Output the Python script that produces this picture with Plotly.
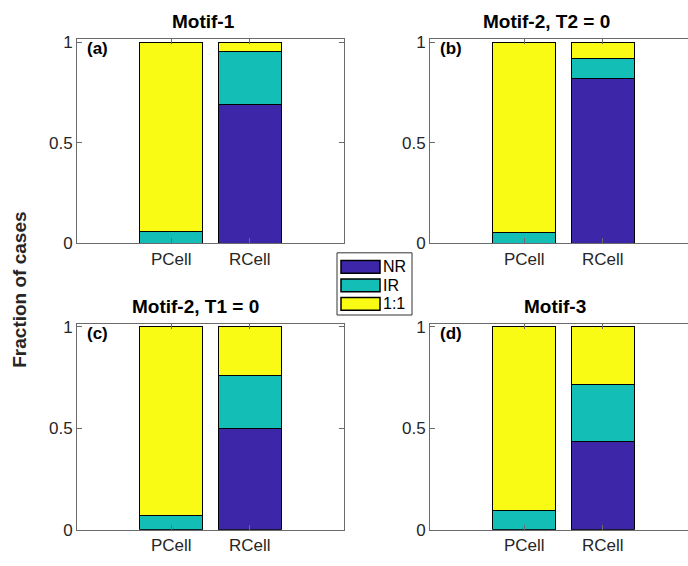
import plotly.graph_objects as go

categories = ["PCell", "RCell"]
x_pos = [1, 2]
series_names = ["NR", "IR", "1:1"]
panel_titles = ["Motif-1", "Motif-2, T2 = 0", "Motif-2, T1 = 0", "Motif-3"]
panel_labels = ["(a)", "(b)", "(c)", "(d)"]

# values per panel: [PCell, RCell]
nr_a = [0.0, 0.687]
ir_a = [0.058, 0.268]
one_a = [0.942, 0.045]

nr_b = [0.0, 0.820]
ir_b = [0.051, 0.096]
one_b = [0.949, 0.084]

nr_c = [0.0, 0.500]
ir_c = [0.069, 0.262]
one_c = [0.931, 0.238]

nr_d = [0.0, 0.435]
ir_d = [0.093, 0.281]
one_d = [0.907, 0.284]

panel_data = [(nr_a, ir_a, one_a), (nr_b, ir_b, one_b),
              (nr_c, ir_c, one_c), (nr_d, ir_d, one_d)]

colors = ["#3E26A8", "#13BEB6", "#F9FB15"]

W, H = 688, 566
FONT = "Liberation Sans, Arial, sans-serif"
TXT = "#262626"
AX = "#6b6b6b"


def px(x):
    return x / W


def py(y):
    return 1 - y / H


# axes pixel boxes: (left, right, top, bottom)
boxes = [(77, 344, 34, 244), (430, 688, 34, 244),
         (77, 344, 327, 539), (430, 688, 327, 539)]
xranges = [[-0.2, 3.2], [-0.2, 3.2 - 9 / 78.5], [-0.2, 3.2], [-0.2, 3.2 - 9 / 78.5]]

fig = go.Figure()
for p, vals in enumerate(panel_data):
    ax = "" if p == 0 else str(p + 1)
    for s in range(3):
        fig.add_trace(go.Bar(
            x=x_pos, y=vals[s], name=series_names[s],
            marker=dict(color=colors[s], line=dict(color="black", width=1)),
            width=0.8, xaxis="x" + ax, yaxis="y" + ax,
            legendgroup=series_names[s], showlegend=False,
        ))

layout = dict(
    width=W, height=H, barmode="stack",
    margin=dict(l=0, r=0, t=0, b=0),
    plot_bgcolor="white", paper_bgcolor="white",
    font=dict(family=FONT, size=17, color=TXT),
    showlegend=False,
)
annotations = []
shapes = []
for p in range(4):
    l, r, t, b = boxes[p]
    ax = "" if p == 0 else str(p + 1)
    right_cut = p in (1, 3)
    layout["xaxis" + ax] = dict(
        domain=[px(l), px(r)], anchor="y" + ax, range=xranges[p],
        tickvals=x_pos, ticktext=categories, ticks="inside", ticklen=5,
        tickcolor=AX, showline=True, linecolor=AX, linewidth=1,
        mirror="ticks", showgrid=False, zeroline=False, fixedrange=True,
        tickfont=dict(size=17, color=TXT),
    )
    layout["yaxis" + ax] = dict(
        domain=[py(b), py(t)], anchor="x" + ax, range=[0, 1.015],
        tickvals=[0, 0.5, 1], ticktext=["0", "0.5", "1"], ticks="inside",
        ticklen=5, tickcolor=AX, showline=True, linecolor=AX, linewidth=1,
        mirror=(False if right_cut else "ticks"), showgrid=False,
        zeroline=False, fixedrange=True, tickfont=dict(size=17, color=TXT),
    )
    annotations.append(dict(
        text="<b>" + panel_labels[p] + "</b>", xref="paper", yref="paper",
        x=px(l + 8), y=py(t + 10), xanchor="left", yanchor="middle",
        showarrow=False, font=dict(size=17, color="black", family=FONT)))

title_pos = [(203, 16), (546, 16), (195, 309), (555, 309)]
for p in range(4):
    annotations.append(dict(
        text="<b>" + panel_titles[p] + "</b>", xref="paper", yref="paper",
        x=px(title_pos[p][0]), y=py(title_pos[p][1]), xanchor="center",
        yanchor="middle", showarrow=False,
        font=dict(size=19, color="black", family=FONT)))

annotations.append(dict(
    text="<b>Fraction of cases</b>", xref="paper", yref="paper",
    x=px(20), y=py(292), xanchor="center", yanchor="middle", textangle=-90,
    showarrow=False, font=dict(size=19, color=TXT, family=FONT)))

# legend box (drawn as in the reference: wide swatches)
shapes.append(dict(type="rect", xref="paper", yref="paper",
                   x0=px(337), x1=px(412), y0=py(318), y1=py(254),
                   line=dict(color="#333", width=1), fillcolor="white"))
row_tops = [262, 281, 300]
for s in range(3):
    y0 = row_tops[s]
    shapes.append(dict(type="rect", xref="paper", yref="paper",
                       x0=px(341), x1=px(380), y0=py(y0 + 13), y1=py(y0),
                       line=dict(color="black", width=1.5),
                       fillcolor=colors[s]))
    annotations.append(dict(
        text=series_names[s], xref="paper", yref="paper",
        x=px(381), y=py(y0 + 6.5), xanchor="left", yanchor="middle",
        showarrow=False, font=dict(size=16, color="black", family=FONT)))

layout["annotations"] = annotations
layout["shapes"] = shapes
fig.update_layout(**layout)
fig.write_html("out.html", config={"displayModeBar": False},
               post_script="document.body.style.margin='0';")
